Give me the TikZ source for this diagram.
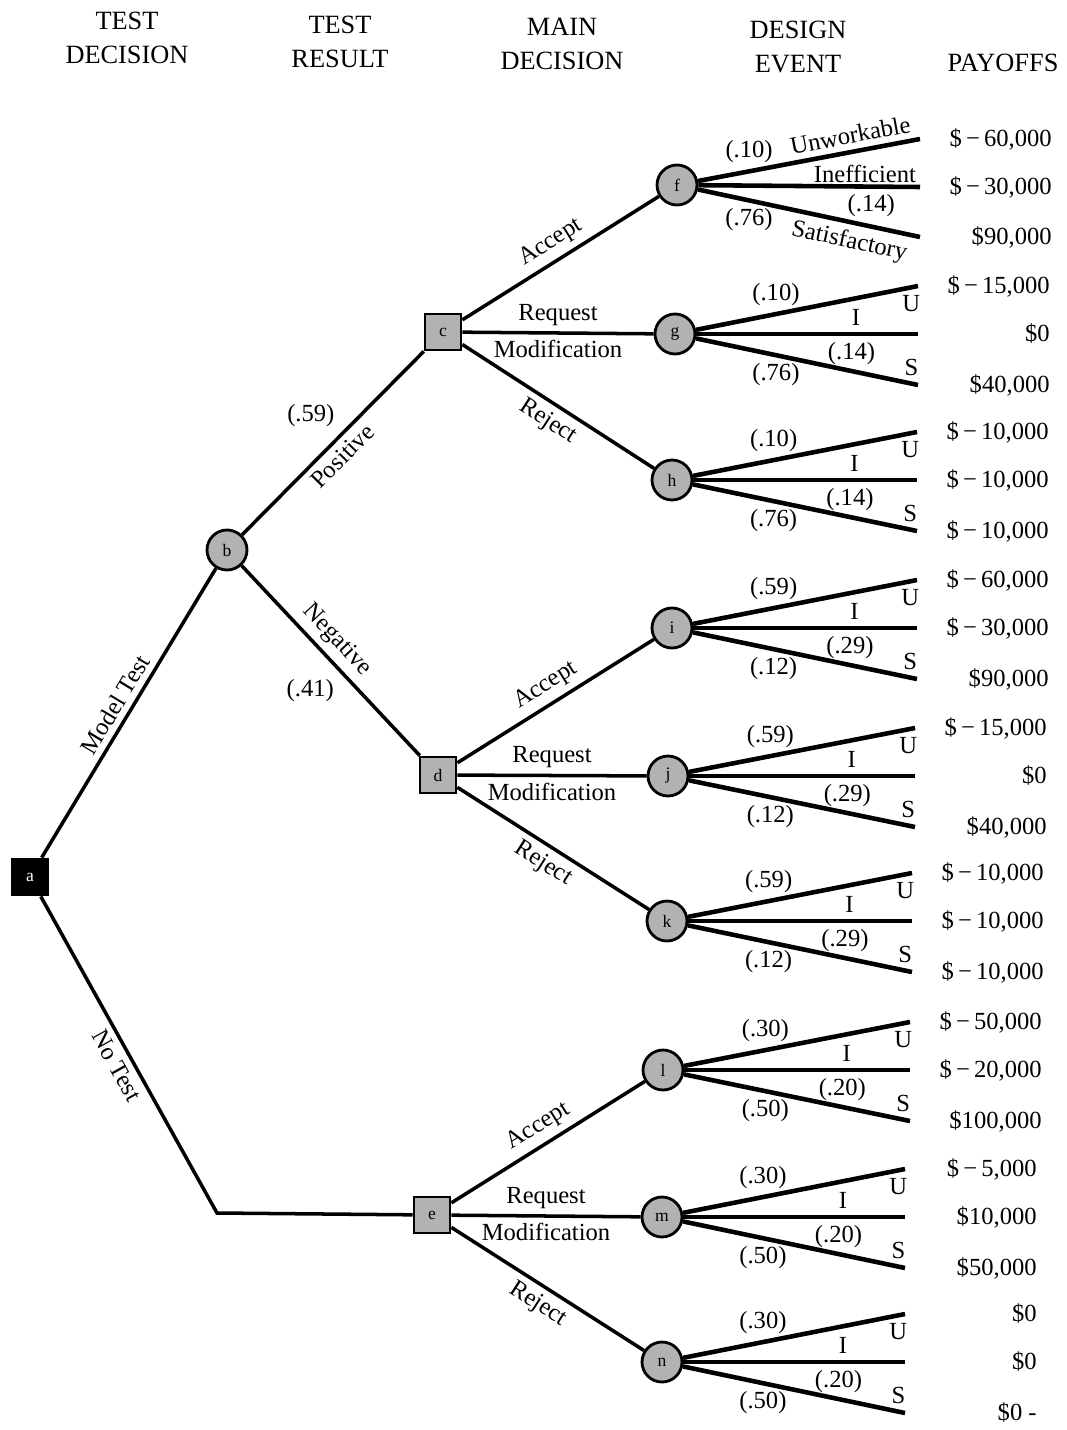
\documentclass[tikz,border=0pt]{standalone}
\usepackage{fontspec}
\setmainfont{Liberation Serif}
\usetikzlibrary{positioning,calc}

\newcommand{\lossamt}[1]{\$\,−\,#1}

\begin{document}
\begin{tikzpicture}[x=0.02cm, y=-0.02cm,
    decision/.style={draw, line width=1.6pt, fill=gray!60, minimum size=0.72cm, inner sep=0pt, font=\normalsize},
    chance/.style={draw, circle, line width=1.6pt, fill=gray!60, minimum size=0.8cm, inner sep=0pt, font=\normalsize},
    branch/.style={line width=2pt},
    fan/.style={line width=2.6pt},
    lbl/.style={font=\fontsize{14}{16}\selectfont},
    head/.style={align=center, font=\fontsize{15}{19}\selectfont},
    payoff/.style={anchor=east, inner sep=0pt, font=\fontsize{14}{16}\selectfont}
]
\useasboundingbox (0,0) rectangle (1066,1430);

% column headings
\node[head] (h1) at (127,38) {TEST\\DECISION};
\node[head] (h2) at (340,42) {TEST\\RESULT};
\node[head] (h3) at (562,44) {MAIN\\DECISION};
\node[head] (h4) at (798,47) {DESIGN\\EVENT};
\node[head] (h5) at (1003,63) {PAYOFFS};

% decision and test nodes
\node[decision, fill=black, text=white] (a) at (30,877) {a};
\node[chance] (b) at (227,550) {b};
\node[decision] (c) at (443,332) {c};
\node[decision] (d) at (438,775) {d};
\node[decision] (e) at (432,1215) {e};
\coordinate (bend) at (217,1213);

% design event f, written out in words
\node[chance] (f) at (677,185) {f};
\coordinate (f-u) at (920,139);
\coordinate (f-i) at (920,187);
\coordinate (f-s) at (920,237);
\draw[fan] (f) -- node[lbl, pos=.23, above] {(.10)} node[lbl, pos=.70, sloped, above] {Unworkable} (f-u);
\draw[fan] (f) -- node[lbl, pos=1, anchor=south east, inner sep=1pt] {Inefficient} node[lbl, pos=.78, below] {(.14)} (f-i);
\draw[fan] (f) -- node[lbl, pos=.23, below] {(.76)} node[lbl, pos=.70, sloped, below] {Satisfactory} (f-s);
\node[payoff] (f-pu) at ($(f-u)+(132,0)$) {\lossamt{60,000}};
\node[payoff] (f-pi) at ($(f-i)+(132,0)$) {\lossamt{30,000}};
\node[payoff] (f-ps) at ($(f-s)+(132,0)$) {\$90,000};

% the other design events
\foreach \n/\cx/\cy/\xe/\pU/\pI/\pS/\aU/\aI/\aS in {
    g/675/334/918/.10/.14/.76/{\lossamt{15,000}}/{\$0}/{\$40,000},
    h/672/480/917/.10/.14/.76/{\lossamt{10,000}}/{\lossamt{10,000}}/{\lossamt{10,000}},
    i/672/628/917/.59/.29/.12/{\lossamt{60,000}}/{\lossamt{30,000}}/{\$90,000},
    j/668/776/915/.59/.29/.12/{\lossamt{15,000}}/{\$0}/{\$40,000},
    k/667/921/912/.59/.29/.12/{\lossamt{10,000}}/{\lossamt{10,000}}/{\lossamt{10,000}},
    l/663/1070/910/.30/.20/.50/{\lossamt{50,000}}/{\lossamt{20,000}}/{\$100,000},
    m/662/1217/905/.30/.20/.50/{\lossamt{5,000}}/{\$10,000}/{\$50,000},
    n/662/1362/905/.30/.20/.50/{\$0}/{\$0}/{\$0 -}}{
  \node[chance] (\n) at (\cx,\cy) {\n};
  \coordinate (\n-u) at (\xe,\cy-48);
  \coordinate (\n-i) at (\xe,\cy);
  \coordinate (\n-s) at (\xe,\cy+51);
  \draw[fan] (\n) -- node[lbl, pos=.36, above] {(\pU)} node[lbl, pos=.97, below] {U} (\n-u);
  \draw[fan] (\n) -- node[lbl, pos=.72, above] {I} node[lbl, pos=.70, below] {(\pI)} (\n-i);
  \draw[fan] (\n) -- node[lbl, pos=.97, above] {S} node[lbl, pos=.36, below] {(\pS)} (\n-s);
  \node[payoff] (\n-pu) at ($(\n-u)+(132,0)$) {\aU};
  \node[payoff] (\n-pi) at ($(\n-i)+(132,0)$) {\aI};
  \node[payoff] (\n-ps) at ($(\n-s)+(132,0)$) {\aS};
}

% test decision and test result
\draw[branch] (a) -- node[lbl, sloped, above] {Model Test} (b);
\draw[branch] (a) -- node[lbl, sloped, below, pos=.51] {No Test} (bend) -- (e);
\draw[branch] (b) -- node[lbl, sloped, below, pos=.49] {Positive} node[lbl, pos=.55, above left] {(.59)} (c);
\draw[branch] (b) -- node[lbl, sloped, above, pos=.46] {Negative} node[lbl, pos=.56, below left] {(.41)} (d);

% main decision
\foreach \dn/\ca/\cb/\cc in {c/f/g/h, d/i/j/k, e/l/m/n}{
  \draw[branch] (\dn) -- node[lbl, sloped, above] {Accept} (\ca);
  \draw[branch] (\dn) -- node[lbl, above] {Request} node[lbl, below] {Modification} (\cb);
  \draw[branch] (\dn) -- node[lbl, sloped, below] {Reject} (\cc);
}

\end{tikzpicture}
\end{document}
